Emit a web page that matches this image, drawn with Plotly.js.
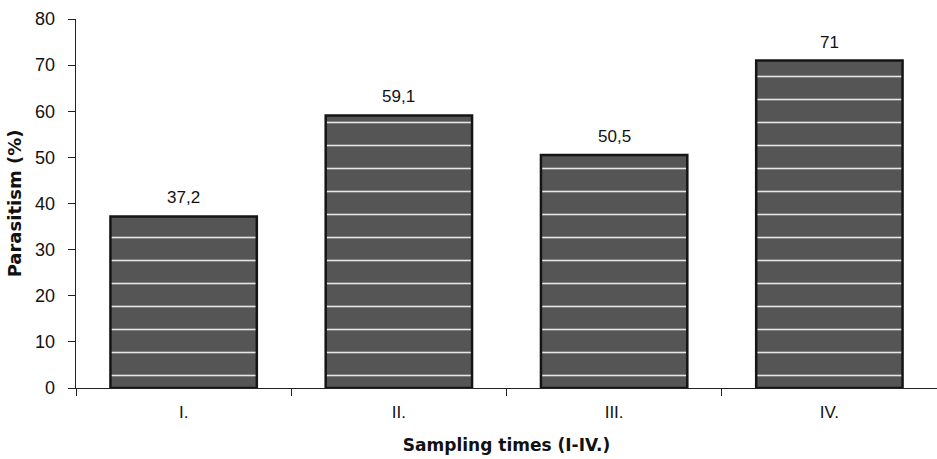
<!DOCTYPE html>
<html>
<head>
<meta charset="utf-8">
<script src="https://cdn.plot.ly/plotly-3.0.1.min.js"></script>
<style>html,body{margin:0;padding:0;background:#fff;}</style>
</head>
<body>
<div id="chart" style="width:937px;height:459px;"></div>
<script>
const categories = ["I.", "II.", "III.", "IV."];
const parasitism = [37.2, 59.1, 50.5, 71];
const valueLabels = ["37,2", "59,1", "50,5", "71"];
const yTicks = [0, 10, 20, 30, 40, 50, 60, 70, 80];

const FONT = "Liberation Sans, Arial, sans-serif";
const TITLE_FONT = "DejaVu Sans, sans-serif";

const bars = {
  type: "bar",
  x: categories,
  y: parasitism,
  width: 0.68,
  marker: {
    color: "#555555",
    line: {color: "#151515", width: 2.5},
    pattern: {shape: "-", bgcolor: "#555555", fgcolor: "#e6e6e6", size: 23, solidity: 0.07}
  },
  hoverinfo: "none"
};

const annotations = categories.map((c, i) => ({
  x: c,
  y: parasitism[i],
  xref: "x",
  yref: "y",
  text: valueLabels[i],
  showarrow: false,
  yanchor: "bottom",
  yshift: 7,
  font: {family: FONT, size: 17, color: "#111"}
}));

const layout = {
  width: 937,
  height: 459,
  margin: {l: 76, r: 0, t: 19, b: 71},
  paper_bgcolor: "#fff",
  plot_bgcolor: "#fff",
  showlegend: false,
  font: {family: FONT, color: "#111"},
  xaxis: {
    type: "category",
    range: [-0.5, 3.5],
    showline: true,
    linecolor: "#222",
    linewidth: 1.3,
    ticks: "outside",
    tickson: "boundaries",
    ticklen: 7,
    tickcolor: "#222",
    ticklabelstandoff: 8,
    tickfont: {family: FONT, size: 17, color: "#111"},
    showgrid: false,
    zeroline: false,
    title: {text: "<b>Sampling times (I-IV.)</b>", font: {family: TITLE_FONT, size: 17, color: "#111"}, standoff: 18}
  },
  yaxis: {
    range: [0, 80],
    tickvals: yTicks,
    showline: true,
    linecolor: "#222",
    linewidth: 1.3,
    ticks: "outside",
    ticklen: 7,
    tickcolor: "#222",
    ticklabelstandoff: 9,
    tickfont: {family: FONT, size: 18, color: "#111"},
    showgrid: false,
    zeroline: false,
    title: {text: "<b>Parasitism (%)</b>", font: {family: TITLE_FONT, size: 18, color: "#111"}, standoff: 8}
  },
  annotations: annotations
};

Plotly.newPlot("chart", [bars], layout, {staticPlot: true, displayModeBar: false});
</script>
</body>
</html>
